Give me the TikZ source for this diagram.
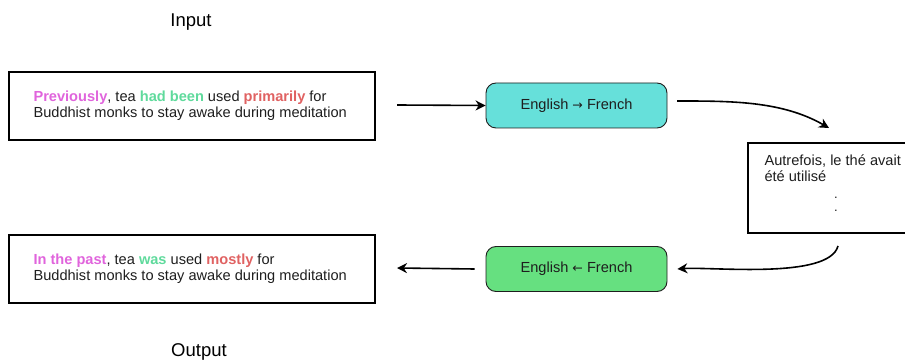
\documentclass[tikz,border=0pt]{standalone}
\usepackage{fontspec}
\setmainfont{Liberation Sans}
\newfontfamily\arrowfont{DejaVu Sans}
\usetikzlibrary{arrows.meta,positioning}
\definecolor{hlpink}{HTML}{E064DC}
\definecolor{hlgreen}{HTML}{5FDA9C}
\definecolor{hlred}{HTML}{E06262}
\definecolor{tealfill}{HTML}{66E0DA}
\definecolor{greenfill}{HTML}{66E080}
\definecolor{ink}{HTML}{1E1E1E}
\tikzset{
  textbox/.style={draw=black, line width=1.5pt, minimum width=366pt, minimum height=68pt},
  langbox/.style={draw=ink, line width=0.9pt, rounded corners=10pt, minimum width=181pt, minimum height=45pt, font=\fontsize{14.6}{16}\selectfont, text=ink},
  bodytext/.style={align=left, anchor=west, font=\fontsize{14.6}{16.3}\selectfont, text=ink},
  flow/.style={line width=1.6pt, -{Stealth[length=10pt,width=10pt]}},
  caption/.style={font=\fontsize{18.5}{20}\selectfont, text=black}
}
\begin{document}
\begin{tikzpicture}[x=1pt,y=-1pt]
  \useasboundingbox (0,0) rectangle (905,363);
  \begin{scope}
    \clip (0,0) rectangle (905,363);

    % titles
    \node[caption] (inlabel) at (191,22) {Input};
    \node[caption] (outlabel) at (199,352) {Output};

    % source and result sentences
    \node[textbox] (src) at (192,106) {};
    \node[bodytext] (srctext) at (30,105.5) {\textcolor{hlpink}{\bfseries Previously}, tea \textcolor{hlgreen}{\bfseries had been} used \textcolor{hlred}{\bfseries primarily} for\\Buddhist monks to stay awake during meditation};
    \node[textbox] (res) at (192,269) {};
    \node[bodytext] (restext) at (30,268.5) {\textcolor{hlpink}{\bfseries In the past}, tea \textcolor{hlgreen}{\bfseries was} used \textcolor{hlred}{\bfseries mostly} for\\Buddhist monks to stay awake during meditation};

    % translation steps
    \node[langbox, fill=tealfill] (fwd) at (576.5,105.5) {English {\arrowfont\fontsize{12.5}{14}\selectfont →} French};
    \node[langbox, fill=greenfill] (bwd) at (576.5,269) {English {\arrowfont\fontsize{12.5}{14}\selectfont ←} French};

    % intermediate French text (box runs past the right edge)
    \node[textbox, minimum width=212pt, minimum height=90pt] (fr) at (854,188) {};
    \node[align=left, anchor=north west, font=\fontsize{14.6}{16.3}\selectfont, text=ink] (frtext) at (761,151) {Autrefois, le thé avait\\été utilisé};
    \node[text=ink, font=\fontsize{13}{13}\selectfont] (dot1) at (836,198) {.};
    \node[text=ink, font=\fontsize{13}{13}\selectfont] (dot2) at (836,211) {.};

    % connector end points
    \coordinate (inA) at (397,105);
    \coordinate (fwdout) at (677,101);
    \coordinate (frin) at (829,128);
    \coordinate (frout) at (838,246);
    \coordinate (outA) at (397,268);

    % connectors
    \draw[flow] (inA) -- (fwd.west);
    \draw[flow] (fwdout) to[out=0, in=150, looseness=0.9] (frin);
    \draw[flow] (frout) to[out=-105, in=4, looseness=0.55] ([xshift=10pt]bwd.east);
    \draw[flow] (bwd.west) ++(-11,0) -- (outA);
  \end{scope}
\end{tikzpicture}
\end{document}
